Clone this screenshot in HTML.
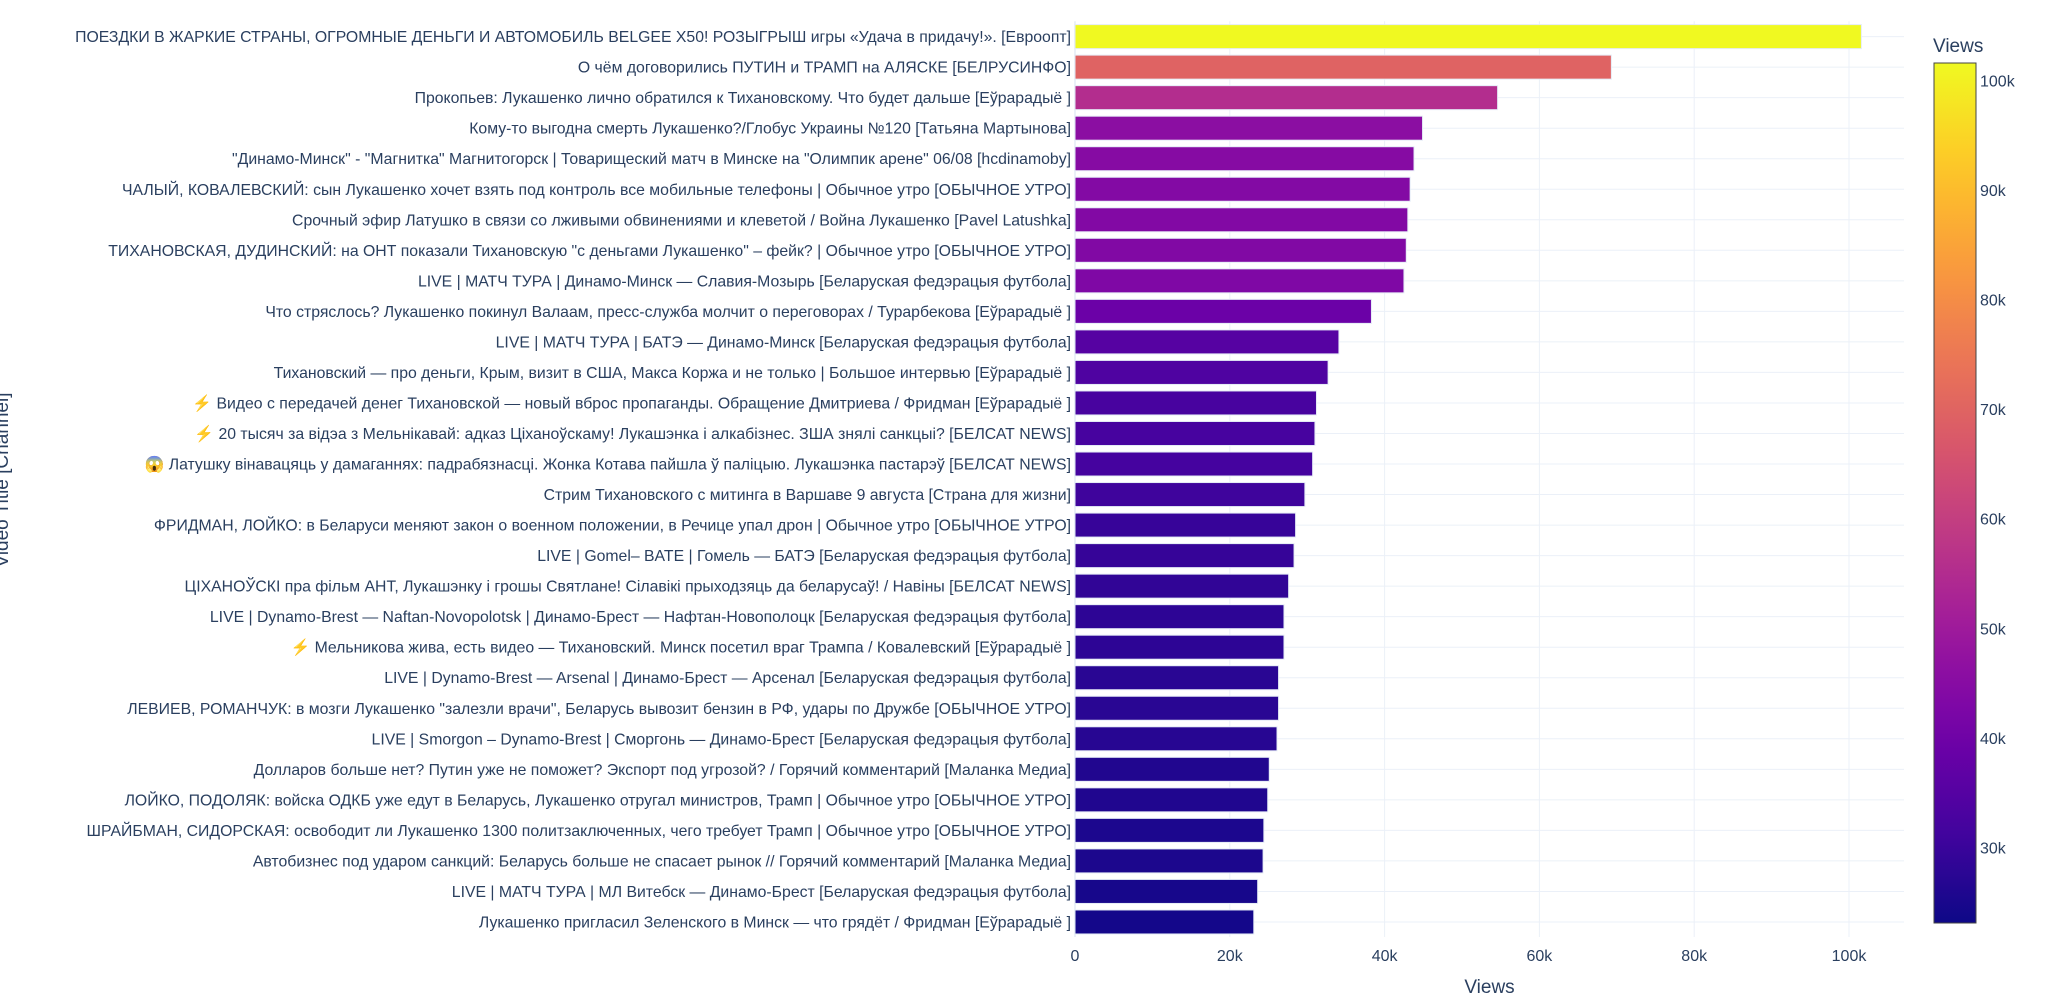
<!DOCTYPE html>
<html><head><meta charset="utf-8"><style>
html,body{margin:0;padding:0;background:#fff;}
svg text{font-family:"Liberation Sans","Noto Sans CJK SC",sans-serif;fill:#2a3f5f;}
</style></head><body>
<svg id="s" width="2048" height="996" xmlns="http://www.w3.org/2000/svg"></svg>
<script>
(function(){
const labels=[
"ПОЕЗДКИ В ЖАРКИЕ СТРАНЫ, ОГРОМНЫЕ ДЕНЬГИ И АВТОМОБИЛЬ BELGEE X50! РОЗЫГРЫШ игры «Удача в придачу!». [Евроопт]",
"О чём договорились ПУТИН и ТРАМП на АЛЯСКЕ [БЕЛРУСИНФО]",
"Прокопьев: Лукашенко лично обратился к Тихановскому. Что будет дальше [Еўрарадыё ]",
"Кому-то выгодна смерть Лукашенко?/Глобус Украины №120 [Татьяна Мартынова]",
"\"Динамо-Минск\" - \"Магнитка\" Магнитогорск | Товарищеский матч в Минске на \"Олимпик арене\" 06/08 [hcdinamoby]",
"ЧАЛЫЙ, КОВАЛЕВСКИЙ: сын Лукашенко хочет взять под контроль все мобильные телефоны | Обычное утро [ОБЫЧНОЕ УТРО]",
"Срочный эфир Латушко в связи со лживыми обвинениями и клеветой / Война Лукашенко [Pavel Latushka]",
"ТИХАНОВСКАЯ, ДУДИНСКИЙ: на ОНТ показали Тихановскую \"с деньгами Лукашенко\" – фейк? | Обычное утро [ОБЫЧНОЕ УТРО]",
"LIVE | МАТЧ ТУРА | Динамо-Минск — Славия-Мозырь [Беларуская федэрацыя футбола]",
"Что стряслось? Лукашенко покинул Валаам, пресс-служба молчит о переговорах / Турарбекова [Еўрарадыё ]",
"LIVE | МАТЧ ТУРА | БАТЭ — Динамо-Минск [Беларуская федэрацыя футбола]",
"Тихановский — про деньги, Крым, визит в США, Макса Коржа и не только | Большое интервью [Еўрарадыё ]",
"⚡ Видео с передачей денег Тихановской — новый вброс пропаганды. Обращение Дмитриева / Фридман [Еўрарадыё ]",
"⚡ 20 тысяч за відэа з Мельнікавай: адказ Ціханоўскаму! Лукашэнка і алкабізнес. ЗША знялі санкцыі? [БЕЛСАТ NEWS]",
"😱 Латушку вінавацяць у дамаганнях: падрабязнасці. Жонка Котава пайшла ў паліцыю. Лукашэнка пастарэў [БЕЛСАТ NEWS]",
"Стрим Тихановского с митинга в Варшаве 9 августа [Страна для жизни]",
"ФРИДМАН, ЛОЙКО: в Беларуси меняют закон о военном положении, в Речице упал дрон | Обычное утро [ОБЫЧНОЕ УТРО]",
"LIVE | Gomel– BATE | Гомель — БАТЭ [Беларуская федэрацыя футбола]",
"ЦІХАНОЎСКІ пра фільм АНТ, Лукашэнку і грошы Святлане! Сілавікі прыходзяць да беларусаў! / Навіны [БЕЛСАТ NEWS]",
"LIVE | Dynamo-Brest — Naftan-Novopolotsk | Динамо-Брест — Нафтан-Новополоцк [Беларуская федэрацыя футбола]",
"⚡ Мельникова жива, есть видео — Тихановский. Минск посетил враг Трампа / Ковалевский [Еўрарадыё ]",
"LIVE | Dynamo-Brest — Arsenal | Динамо-Брест — Арсенал [Беларуская федэрацыя футбола]",
"ЛЕВИЕВ, РОМАНЧУК: в мозги Лукашенко \"залезли врачи\", Беларусь вывозит бензин в РФ, удары по Дружбе [ОБЫЧНОЕ УТРО]",
"LIVE | Smorgon – Dynamo-Brest | Сморгонь — Динамо-Брест [Беларуская федэрацыя футбола]",
"Долларов больше нет? Путин уже не поможет? Экспорт под угрозой? / Горячий комментарий [Маланка Медиа]",
"ЛОЙКО, ПОДОЛЯК: войска ОДКБ уже едут в Беларусь, Лукашенко отругал министров, Трамп | Обычное утро [ОБЫЧНОЕ УТРО]",
"ШРАЙБМАН, СИДОРСКАЯ: освободит ли Лукашенко 1300 политзаключенных, чего требует Трамп | Обычное утро [ОБЫЧНОЕ УТРО]",
"Автобизнес под ударом санкций: Беларусь больше не спасает рынок // Горячий комментарий [Маланка Медиа]",
"LIVE | МАТЧ ТУРА | МЛ Витебск — Динамо-Брест [Беларуская федэрацыя футбола]",
"Лукашенко пригласил Зеленского в Минск — что грядёт / Фридман [Еўрарадыё ]"];
const vals=[101.6,69.3,54.6,44.9,43.8,43.3,43.0,42.8,42.5,38.3,34.1,32.7,31.2,31.0,30.7,29.7,28.5,28.3,27.6,27.0,27.0,26.3,26.3,26.1,25.1,24.9,24.4,24.3,23.6,23.1];
const stops=["#0d0887","#46039f","#7201a8","#9c179e","#bd3786","#d8576b","#ed7953","#fb9f3a","#fdca26","#f0f921"].map(function(hx){return [1,3,5].map(function(i){return parseInt(hx.substr(i,2),16);});});
function col(t){t=Math.max(0,Math.min(1,t));var p=t*9,i=Math.min(8,Math.floor(p)),f=p-i;var a=stops[i],b=stops[i+1];return "rgb("+a.map(function(v,k){return Math.round(v+(b[k]-v)*f);}).join(",")+")";}
var cmin=22.0,cmax=101.6;
var x0=1075,k=7.74,ptop=21.3,pitch=30.53,right=1904;
var h='';
for(var v=20;v<=100;v+=20){var x=x0+v*k;h+='<line x1="'+x+'" y1="'+ptop+'" x2="'+x+'" y2="937" stroke="#ebf0f8" stroke-width="1"/>';}
for(var i=0;i<30;i++){var y=36.6+i*pitch;h+='<line x1="'+x0+'" y1="'+y+'" x2="'+right+'" y2="'+y+'" stroke="#ebf0f8" stroke-width="1"/>';}
h+='<line x1="'+x0+'" y1="'+ptop+'" x2="'+x0+'" y2="937" stroke="#ebf0f8" stroke-width="2"/>';
for(var i=0;i<30;i++){var y=36.6+i*pitch;var w=vals[i]*k;
h+='<rect x="'+x0+'" y="'+(y-12)+'" width="'+w+'" height="24" fill="'+col((vals[i]-cmin)/(cmax-cmin))+'" stroke="#e5ecf6" stroke-width="1"/>';
h+='<text x="'+(x0-4)+'" y="'+(y+5.5)+'" font-size="15.8" text-anchor="end">'+labels[i].replace(/&/g,'&amp;').replace(/</g,'&lt;')+'</text>';}
for(var v=0;v<=100;v+=20){h+='<text x="'+(x0+v*k)+'" y="961" font-size="16" text-anchor="middle">'+(v?v+'k':'0')+'</text>';}
h+='<text x="'+((x0+right)/2)+'" y="993" font-size="19" text-anchor="middle">Views</text>';
h+='<text transform="translate(8,480) rotate(-90)" font-size="19" text-anchor="middle">Video Title [Channel]</text>';
h+='<defs><linearGradient id="g" x1="0" y1="1" x2="0" y2="0">';
for(var i=0;i<=20;i++)h+='<stop offset="'+(i/20)+'" stop-color="'+col(i/20)+'"/>';
h+='</linearGradient></defs>';
h+='<rect x="1934" y="63" width="42" height="860" fill="url(#g)" stroke="#444" stroke-width="1"/>';
h+='<text x="1933" y="52" font-size="19" text-anchor="start">Views</text>';
for(var v=30;v<=100;v+=10){var y=923-(v-23.1)/(101.6-23.1)*860;h+='<text x="1980" y="'+(y+6)+'" font-size="16">'+v+'k</text>';}
document.getElementById('s').innerHTML=h;
})();
</script>
</body></html>
